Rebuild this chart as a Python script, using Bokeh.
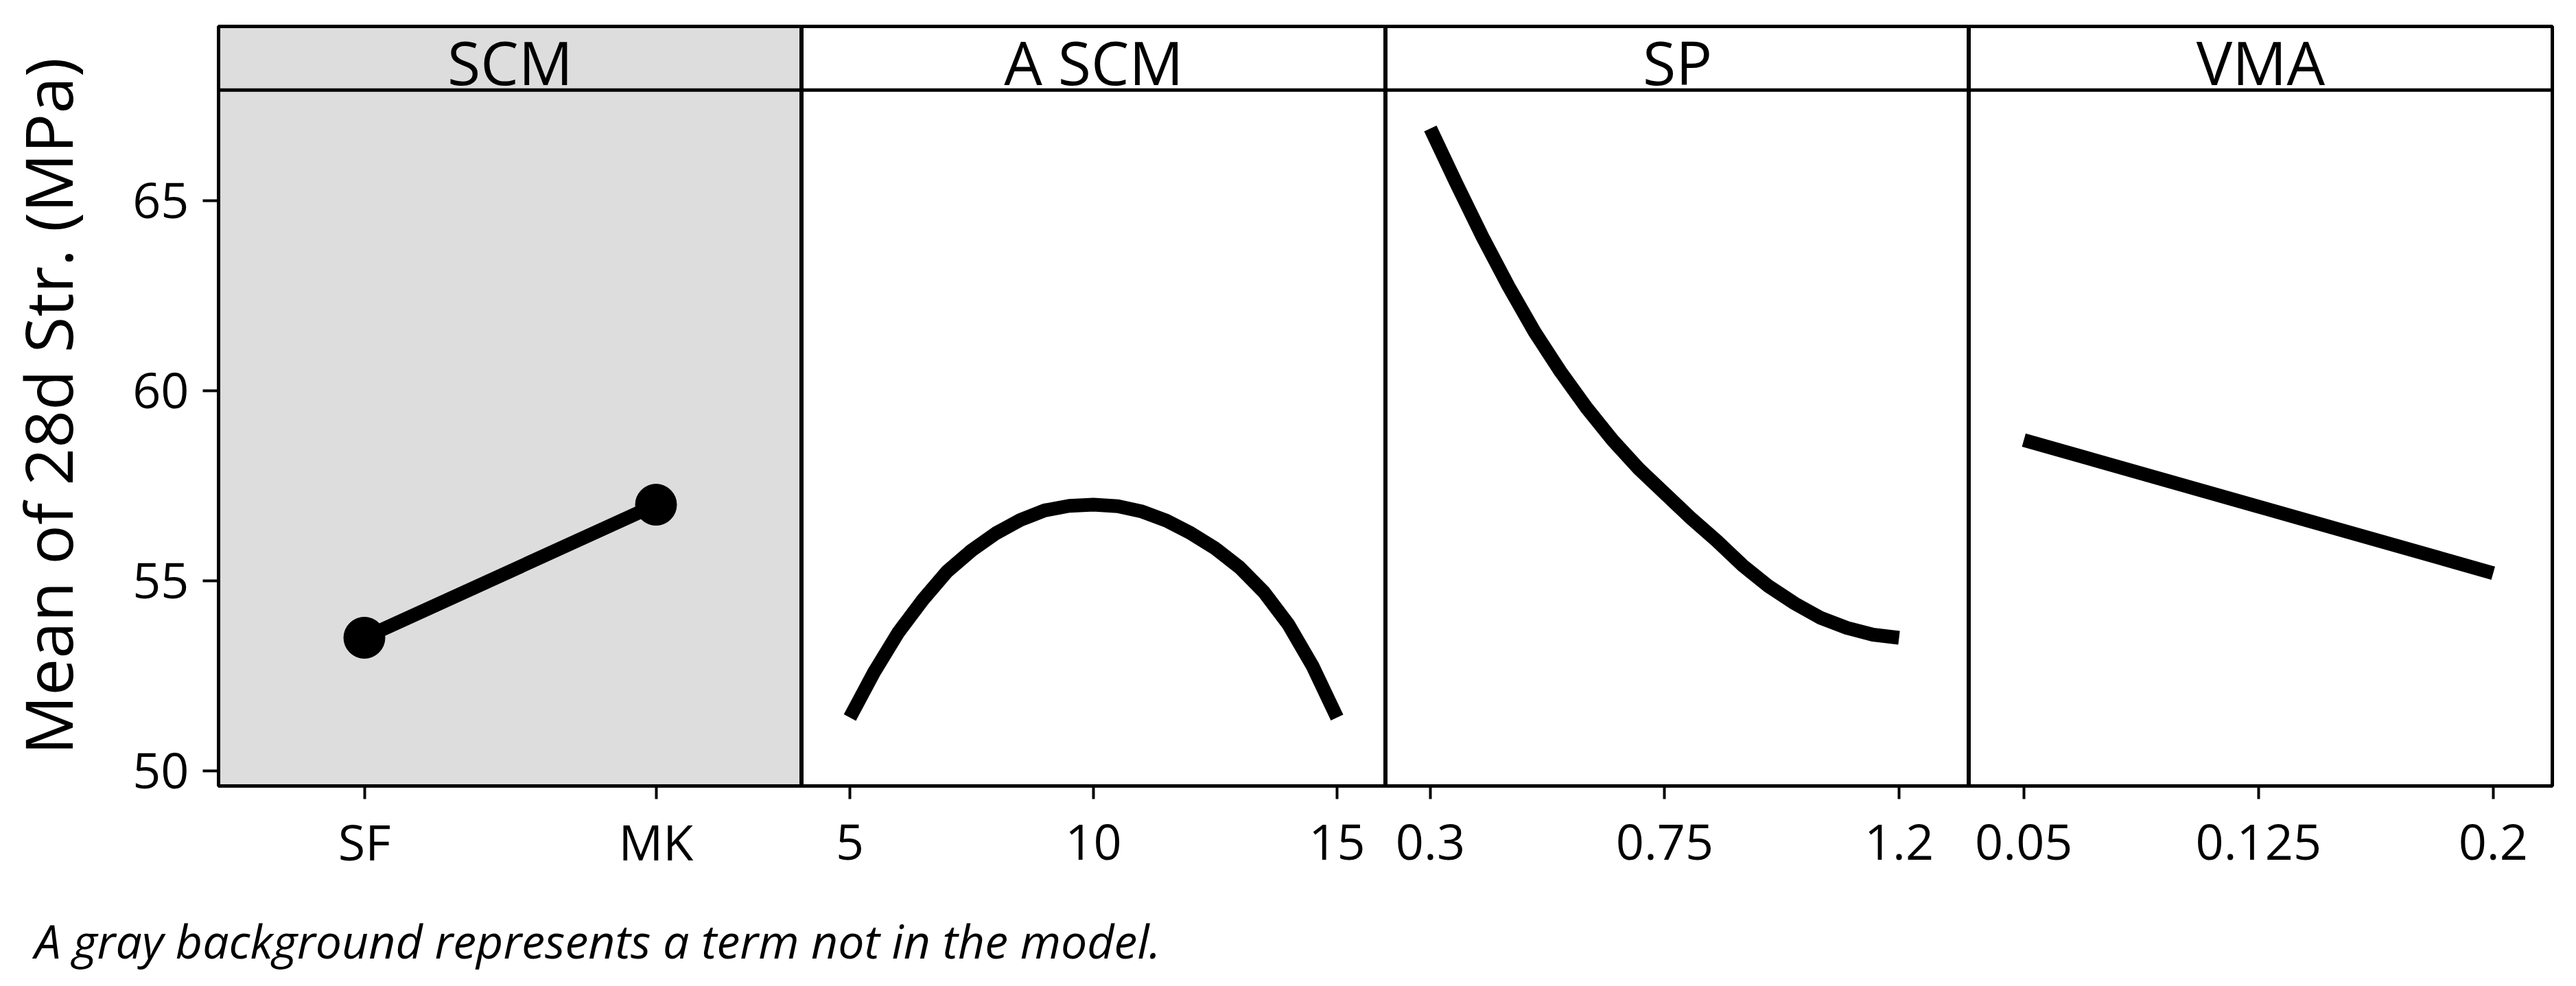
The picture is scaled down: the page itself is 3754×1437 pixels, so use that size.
from bokeh.plotting import figure
from bokeh.layouts import row, column
from bokeh.models import Label, Span, FactorRange, Range1d, FixedTicker
from bokeh.embed import file_html
from bokeh.resources import INLINE

# ---------------- data ----------------
panel_names = ["SCM", "A SCM", "SP", "VMA"]

scm_levels = ["SF", "MK"]
scm_means = [53.5, 57.0]

ascm_x = [5.0, 5.5, 6.0, 6.5, 7.0, 7.5, 8.0, 8.5, 9.0, 9.5, 10.0,
          10.5, 11.0, 11.5, 12.0, 12.5, 13.0, 13.5, 14.0, 14.5, 15.0]
ascm_y = [51.4, 52.6, 53.65, 54.5, 55.25, 55.8, 56.25, 56.6, 56.85, 56.97, 57.0,
          56.96, 56.82, 56.58, 56.25, 55.85, 55.35, 54.7, 53.85, 52.75, 51.4]

sp_x = [0.30, 0.35, 0.40, 0.45, 0.50, 0.55, 0.60, 0.65, 0.70, 0.75,
        0.80, 0.85, 0.90, 0.95, 1.00, 1.05, 1.10, 1.15, 1.20]
sp_y = [66.9, 65.45, 64.05, 62.75, 61.55, 60.5, 59.55, 58.7, 57.95, 57.3,
        56.65, 56.05, 55.4, 54.85, 54.4, 54.02, 53.76, 53.58, 53.5]

vma_x = [0.05, 0.125, 0.2]
vma_y = [58.7, 56.95, 55.2]

ascm_ticks = [5, 10, 15]
sp_ticks = [0.3, 0.75, 1.2]
vma_ticks = [0.05, 0.125, 0.2]
y_ticks = [50, 55, 60, 65]

y_label = "Mean of 28d Str. (MPa)"
caption = "A gray background represents a term not in the model."

# ---------------- style ----------------
FONT = "Open Sans"
GRAY = "#DDDDDD"
LW = 20
Y0, Y1 = 49.6, 69.585
STRIP_EDGE = 67.91
STRIP_TEXT_Y = 68.66

TOP, BOTTOM, FH = 38, 160, 1107
LEFT = 309
W1, W2, W3, W4, RIGHT = 850, 851, 850, 850, 28


def make_panel(x_range, frame_w, left=0, right=0, bg="white"):
    p = figure(x_range=x_range, y_range=Range1d(Y0, Y1),
               frame_width=frame_w, frame_height=FH,
               min_border_left=left, min_border_right=right,
               min_border_top=TOP, min_border_bottom=BOTTOM,
               toolbar_location=None, output_backend="svg",
               y_axis_location="left" if left else None)
    p.background_fill_color = bg
    p.border_fill_color = "white"
    p.outline_line_color = "black"
    p.outline_line_width = 5
    p.outline_line_alpha = 1.0
    p.grid.visible = False
    xa = p.xaxis[0]
    xa.axis_line_color = "black"
    xa.axis_line_width = 5
    xa.major_tick_out = 19
    xa.major_tick_in = 0
    xa.major_tick_line_width = 4
    xa.minor_tick_line_color = None
    xa.major_label_text_font = FONT
    xa.major_label_text_font_size = "72px"
    xa.major_label_text_color = "black"
    xa.major_label_standoff = 36
    p.add_layout(Span(location=STRIP_EDGE, dimension="width",
                      line_color="black", line_width=5))
    return p


# Panel 1 : SCM (categorical, gray = not in model)
p1 = make_panel(FactorRange(*scm_levels), W1, left=LEFT, bg=GRAY)
p1.xaxis[0].major_label_standoff = 12
p1.line(scm_levels, scm_means, line_color="black", line_width=LW)
p1.scatter(scm_levels, scm_means, size=60, marker="circle",
           fill_color="black", line_color="black")
ya = p1.yaxis[0]
ya.ticker = FixedTicker(ticks=y_ticks)
ya.axis_line_color = "black"
ya.axis_line_width = 5
ya.major_tick_out = 23
ya.major_tick_in = 0
ya.major_tick_line_width = 4
ya.minor_tick_line_color = None
ya.major_label_text_font = FONT
ya.major_label_text_font_size = "72px"
ya.major_label_text_color = "black"
ya.major_label_standoff = 20
ya.axis_label = y_label
ya.axis_label_text_font = FONT
ya.axis_label_text_font_size = "96px"
ya.axis_label_text_font_style = "normal"
ya.axis_label_text_color = "black"
ya.axis_label_standoff = 56

# Panel 2 : A_SCM
p2 = make_panel(Range1d(4.014, 16.0), W2)
p2.line(ascm_x, ascm_y, line_color="black", line_width=LW, line_join="round")
p2.xaxis[0].ticker = FixedTicker(ticks=ascm_ticks)

# Panel 3 : SP
p3 = make_panel(Range1d(0.2144, 1.3344), W3)
p3.line(sp_x, sp_y, line_color="black", line_width=LW, line_join="round")
p3.xaxis[0].ticker = FixedTicker(ticks=sp_ticks)
p3.xaxis[0].major_label_overrides = {0.3: "0.3", 0.75: "0.75", 1.2: "1.2"}

# Panel 4 : VMA
p4 = make_panel(Range1d(0.0325, 0.2189), W4, right=RIGHT)
p4.line(vma_x, vma_y, line_color="black", line_width=LW)
p4.xaxis[0].ticker = FixedTicker(ticks=vma_ticks)
p4.xaxis[0].major_label_overrides = {0.05: "0.05", 0.125: "0.125", 0.2: "0.2"}

# strip titles
for p, name in zip([p1, p2, p3, p4], panel_names):
    p.add_layout(Label(x=p.frame_width / 2, x_units="screen", y=STRIP_TEXT_Y,
                       text=name, text_font=FONT, text_font_size="88px",
                       text_color="black", text_align="center",
                       text_baseline="alphabetic"))

# caption
TOTAL_W = LEFT + W1 + W2 + W3 + W4 + RIGHT
CAP_H = 130
cap = figure(width=TOTAL_W, height=CAP_H, x_range=Range1d(0, TOTAL_W),
             y_range=Range1d(0, CAP_H), min_border=0,
             min_border_left=0, min_border_right=0,
             min_border_top=0, min_border_bottom=0,
             toolbar_location=None, output_backend="svg",
             x_axis_location=None, y_axis_location=None)
cap.outline_line_color = None
cap.grid.visible = False
cap.add_layout(Label(x=50, y=65, text=caption, text_font=FONT,
                     text_font_size="68px", text_font_style="italic",
                     text_color="black", text_baseline="alphabetic"))

layout = column(row(p1, p2, p3, p4, spacing=0), cap, spacing=0)
open("out.html", "w").write(file_html(layout, INLINE))
